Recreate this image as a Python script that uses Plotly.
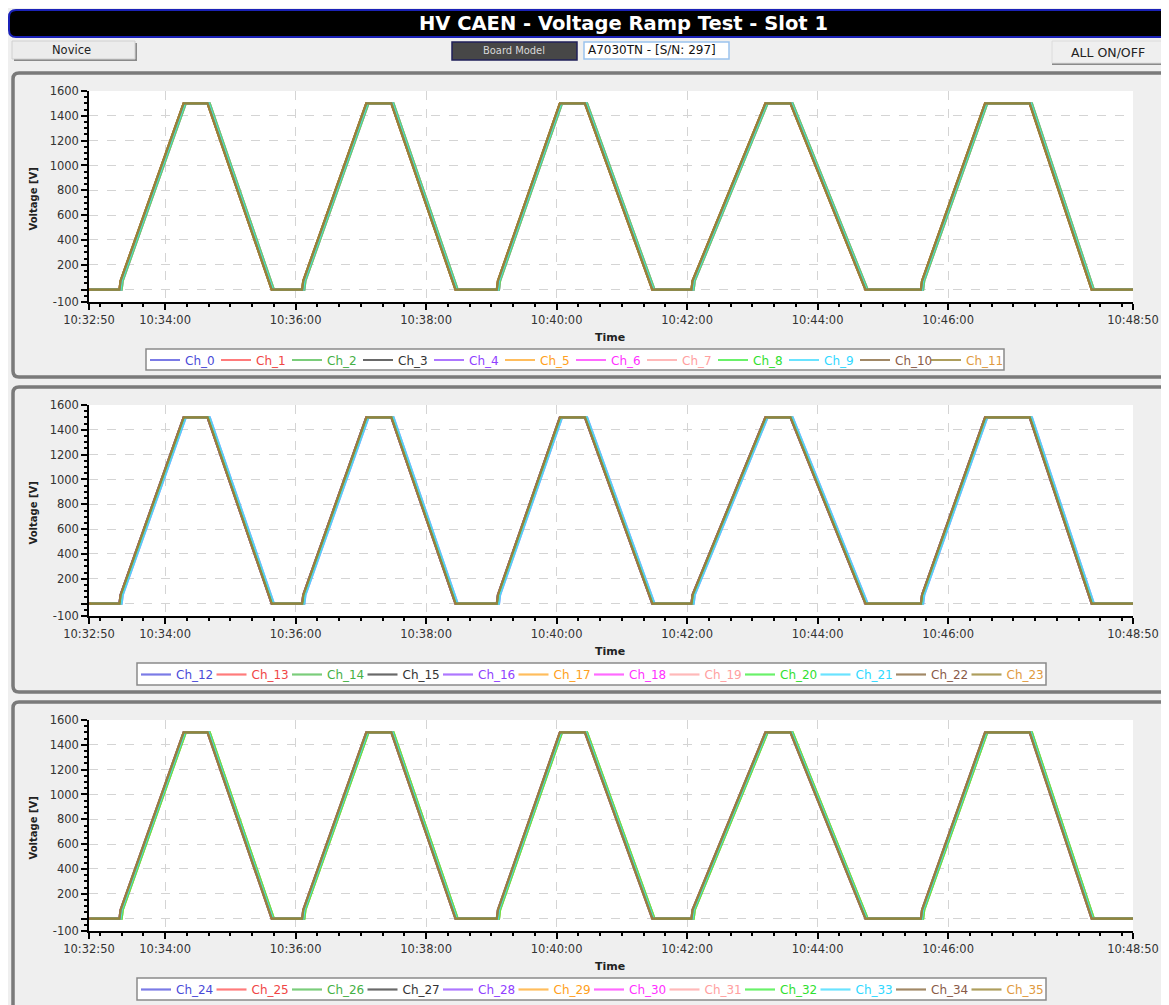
import pandas as pd
import plotly.graph_objects as go

W, H = 1169, 1005
OFF = 8   # the page's default body margin shifts the figure by 8 px; compensate
DAY = "2024-05-14 "
FONT = "DejaVu Sans, sans-serif"
FONT_C = "DejaVu Sans Condensed, DejaVu Sans, sans-serif"

# ---------------- data ----------------
# common breakpoint times of the ramp cycles and the monitored voltage [V]
TIMES = ["10:32:50", "10:33:18", "10:33:19", "10:34:17", "10:34:39", "10:35:38",
         "10:36:06", "10:36:07", "10:37:05", "10:37:28", "10:38:27",
         "10:39:05", "10:39:06", "10:40:03", "10:40:26", "10:41:28",
         "10:42:04", "10:42:05", "10:43:12", "10:43:35", "10:44:44",
         "10:45:35", "10:45:36", "10:46:34", "10:47:15", "10:48:12", "10:48:50"]
VOLTS = [0, 0, 70, 1500, 1500, 0,
         0, 70, 1500, 1500, 0,
         0, 70, 1500, 1500, 0,
         0, 70, 1500, 1500, 0,
         0, 70, 1500, 1500, 0, 0]

# small per-channel delay [s] seen as coloured fringes along the ramps
LAG_SLOT_A = [1, 0, 2, 0, 1, 0, 2, 1, 2, 1, 0, 0]    # Ch_0 .. Ch_11
LAG_SLOT_B = [0, 1, 1, 0, 2, 1, 0, 1, 1, 2, 0, 0]    # Ch_12 .. Ch_23
LAG_SLOT_C = [1, 1, 2, 0, 1, 2, 0, 1, 2, 1, 0, 0]    # Ch_24 .. Ch_35
LAGS = [LAG_SLOT_A, LAG_SLOT_B, LAG_SLOT_C]

CH_COLORS = ["#5a5ae0", "#ff5a5a", "#5ac05a", "#444444", "#9a55ff", "#ffad35",
             "#ff45ff", "#ffa8a8", "#45ee45", "#45dcff", "#8a6a40", "#9a8634"]
TEXT_COLORS = ["#4a4ad8", "#f04545", "#45b045", "#333333", "#9040ff", "#ffa020",
               "#ff30ff", "#ffa0a0", "#30e030", "#30d8ff", "#8a5a48", "#e09a40"]

X_TICKS = ["10:32:50", "10:34:00", "10:36:00", "10:38:00", "10:40:00",
           "10:42:00", "10:44:00", "10:46:00", "10:48:50"]
Y_TICKS = [-100, 0, 200, 400, 600, 800, 1000, 1200, 1400, 1600]
Y_TICK_TEXT = ["-100", "", "200", "400", "600", "800", "1000", "1200", "1400", "1600"]


# ---------------- geometry helpers (arguments are page pixels) ----------------
def px(x):
    return (x - OFF) / W


def py(y):
    return 1 - (y - OFF) / H


def P(x, y):
    return f"{px(x):.5f},{py(y):.5f}"


def rrect(x0, y0, x1, y1, r):
    return ("M " + P(x0 + r, y0) + " L " + P(x1 - r, y0) + " Q " + P(x1, y0) + " " + P(x1, y0 + r) +
            " L " + P(x1, y1 - r) + " Q " + P(x1, y1) + " " + P(x1 - r, y1) +
            " L " + P(x0 + r, y1) + " Q " + P(x0, y1) + " " + P(x0, y1 - r) +
            " L " + P(x0, y0 + r) + " Q " + P(x0, y0) + " " + P(x0 + r, y0) + " Z")


def rect(x0, y0, x1, y1, fill, line_color=None, lw=0):
    return dict(type="rect", xref="paper", yref="paper", x0=px(x0), x1=px(x1), y0=py(y1), y1=py(y0),
                fillcolor=fill, line=dict(color=line_color or fill, width=lw), layer="below")


PLOT_X0, PLOT_X1 = 89, 1133
PANEL_Y = [(91, 302), (405, 616), (720, 931)]   # (1600 line, -100 line)
PANEL_BOX = [(13, 73, 1167, 377), (13, 387, 1167, 692), (13, 702, 1167, 1012)]
LEGEND_BOX = [(146, 349, 1004, 370), (137, 663, 1046, 685), (137, 978, 1046, 1000)]
LEGEND_EW = [26, 30.5, 30.5]

base_times = pd.to_datetime([DAY + t for t in TIMES])

fig = go.Figure()

for p in range(3):
    sfx = "" if p == 0 else str(p + 1)
    for c in range(12):
        ch = p * 12 + c
        xs = base_times + pd.to_timedelta(LAGS[p][c], unit="s")
        fig.add_trace(go.Scatter(
            x=xs, y=VOLTS, mode="lines",
            line=dict(color=CH_COLORS[c], width=2.2),
            opacity=0.8,
            name=f'<span style="color:{TEXT_COLORS[c]}">Ch_{ch}</span>',
            xaxis="x" + sfx, yaxis="y" + sfx,
            legend="legend" + sfx,
            hoverinfo="skip",
        ))
    # empty, invisible spacer entry so the last legend label is not clipped
    fig.add_trace(go.Scatter(
        x=[None], y=[None], mode="lines", name=" ",
        line=dict(color="rgba(0,0,0,0)", width=0),
        xaxis="x" + sfx, yaxis="y" + sfx, legend="legend" + sfx, hoverinfo="skip",
    ))

layout = dict(
    width=W, height=H,
    margin=dict(l=0, r=0, t=0, b=0, autoexpand=False),
    paper_bgcolor="#efefef",
    plot_bgcolor="white",
    font=dict(family=FONT, color="#333333", size=11),
    showlegend=True,
)

for p in range(3):
    sfx = "" if p == 0 else str(p + 1)
    y_top, y_bot = PANEL_Y[p]
    layout["xaxis" + sfx] = dict(
        domain=[px(PLOT_X0), px(PLOT_X1)], anchor="y" + sfx, type="date",
        range=[DAY + "10:32:50", DAY + "10:48:50"],
        tickvals=[DAY + t for t in X_TICKS], ticktext=X_TICKS,
        tickfont=dict(size=11.5, color="#333333", family=FONT),
        showline=True, linecolor="black", linewidth=1.5,
        ticks="outside", ticklen=6, tickwidth=1.5, tickcolor="black",
        minor=dict(dtick=20000, tick0=DAY + "10:33:00", ticks="outside", ticklen=3,
                   tickcolor="black", showgrid=False),
        showgrid=True, gridcolor="#d4d4d4", griddash="dash", gridwidth=1,
        zeroline=False, fixedrange=True,
    )
    layout["yaxis" + sfx] = dict(
        domain=[py(y_bot), py(y_top)], anchor="x" + sfx,
        range=[-100, 1600],
        tickvals=Y_TICKS, ticktext=Y_TICK_TEXT,
        tickfont=dict(size=11.5, color="#333333", family=FONT),
        showline=True, linecolor="black", linewidth=1.5,
        ticks="outside", ticklen=6, tickwidth=1.5, tickcolor="black",
        minor=dict(dtick=50, tick0=0, ticks="outside", ticklen=3, tickcolor="black",
                   showgrid=False),
        showgrid=True, gridcolor="#d4d4d4", griddash="dash", gridwidth=1,
        zeroline=False, fixedrange=True,
    )
    lx0, ly0, lx1, ly1 = LEGEND_BOX[p]
    layout["legend" + sfx] = dict(
        orientation="h", x=px(lx0 - 1), y=py((ly0 + ly1) / 2 + 0.5), xanchor="left", yanchor="middle",
        bgcolor="rgba(0,0,0,0)", borderwidth=0,
        font=dict(size=12, family=FONT),
        entrywidth=LEGEND_EW[p], entrywidthmode="pixels", itemwidth=30,
        tracegroupgap=0, traceorder="normal",
    )

shapes = []
# title bar
shapes.append(dict(type="path", xref="paper", yref="paper", path=rrect(9, 10, 1180, 37, 7),
                   fillcolor="black", line=dict(color="#1b22b8", width=2), layer="below"))
# Novice button
shapes.append(rect(14, 43, 137, 61, "#8a8a8a"))
shapes.append(rect(12, 41, 135, 59, "#ececec", "#d0d0d0", 1))
# Board Model label
shapes.append(rect(452, 42, 577, 60, "#474747", "#20205a", 1.5))
# text field
shapes.append(rect(584, 42, 729, 59, "white", "#9cc4ee", 1.5))
# ALL ON/OFF button
shapes.append(rect(1052, 43, 1185, 65, "#8a8a8a"))
shapes.append(rect(1052, 41, 1185, 63, "#efefef", "#dcdcdc", 1))
# chart panels (outline only, so the white plot areas stay visible)
for (x0, y0, x1, y1) in PANEL_BOX:
    shapes.append(dict(type="path", xref="paper", yref="paper", path=rrect(x0, y0, x1, y1, 6),
                       fillcolor="rgba(0,0,0,0)", line=dict(color="#7a7a7a", width=3.5), layer="below"))
# legend frames
for (x0, y0, x1, y1) in LEGEND_BOX:
    shapes.append(rect(x0, y0, x1, y1, "white", "#8a8a8a", 1.5))
layout["shapes"] = shapes

ann = [
    dict(text="<b>HV CAEN - Voltage Ramp Test - Slot 1</b>", x=px(623), y=py(23.5),
         font=dict(size=19.5, color="white", family=FONT)),
    dict(text="Novice", x=px(71), y=py(50.5), font=dict(size=11.5, color="#222222", family=FONT)),
    dict(text="Board Model", x=px(514), y=py(51), font=dict(size=11, color="#d8d8d8", family=FONT_C)),
    dict(text="A7030TN - [S/N: 297]", x=px(586), y=py(50.5), xanchor="left",
         font=dict(size=12, color="#111111", family=FONT)),
    dict(text="ALL ON/OFF", x=px(1108), y=py(52.5), font=dict(size=12.5, color="#222222", family=FONT)),
]
for p in range(3):
    y_top, y_bot = PANEL_Y[p]
    ann.append(dict(text="<b>Voltage [V]</b>", x=px(33), y=py((y_top + y_bot) / 2 + 3), textangle=-90,
                    font=dict(size=10, color="#222222", family=FONT)))
    ann.append(dict(text="<b>Time</b>", x=px(610), y=py(y_bot + 35),
                    font=dict(size=11, color="#222222", family=FONT)))
for a in ann:
    a.update(xref="paper", yref="paper", showarrow=False, xanchor=a.get("xanchor", "center"),
             yanchor="middle")
layout["annotations"] = ann

fig.update_layout(**layout)
fig.write_html("out.html")
